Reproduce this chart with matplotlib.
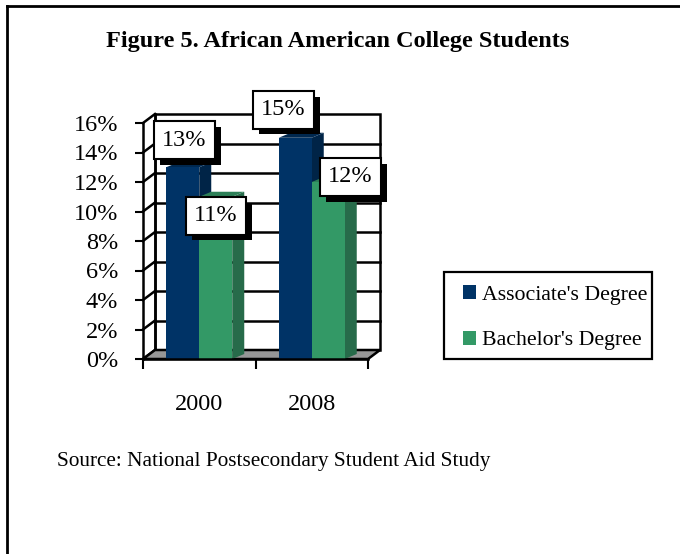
import matplotlib
matplotlib.use("Agg")
import matplotlib.pyplot as plt
import matplotlib.patheffects as pe
from matplotlib.patches import Polygon, Rectangle, Patch
from matplotlib.lines import Line2D

# ---- data -------------------------------------------------------------
years = ["2000", "2008"]
series_names = ["Associate's Degree", "Bachelor's Degree"]
associate_pct = [13, 15]
bachelor_pct = [11, 12]
y_ticks = [0, 2, 4, 6, 8, 10, 12, 14, 16]
y_tick_labels = [f"{v}%" for v in y_ticks]

# ---- style ------------------------------------------------------------
plt.rcParams["font.family"] = ["Liberation Serif", "DejaVu Serif"]
front_colors = ["#003366", "#339966"]
side_colors = ["#002447", "#276b4a"]
top_colors = ["#00284f", "#2c7f57"]
floor_color = "#969696"

W, H, DPI = 680, 554, 100
fig = plt.figure(figsize=(W / DPI, H / DPI), dpi=DPI)

# plot area (front plane of the 3-D box)
left_px, right_px, bottom_px, top_px = 143, 368, 359, 123
ax = fig.add_axes([left_px / W, (H - bottom_px) / H,
                   (right_px - left_px) / W, (bottom_px - top_px) / H])
x_lo, x_hi = -0.5, 1.5
ax.set_xlim(x_lo, x_hi)
ax.set_ylim(0, 16)

# pixel -> data conversions for the oblique depth
px_x = (x_hi - x_lo) / (right_px - left_px)
px_y = 16 / (bottom_px - top_px)
DX, DY = 12 * px_x, 9 * px_y          # wall depth
BDX, BDY = 12 * px_x, 5 * px_y        # bar depth
LW = 1.8

# back wall
ax.add_patch(Rectangle((x_lo + DX, DY), x_hi - x_lo, 16, facecolor="white",
                       edgecolor="black", lw=LW, clip_on=False, zorder=1))
# floor
ax.add_patch(Polygon([(x_lo, 0), (x_hi, 0), (x_hi + DX, DY), (x_lo + DX, DY)],
                     closed=True, facecolor=floor_color, edgecolor="black",
                     lw=LW, clip_on=False, zorder=1.2))
# gridlines on back wall and side wall
for t in y_ticks:
    if 0 < t < 16:
        ax.plot([x_lo + DX, x_hi + DX], [t + DY, t + DY], color="black",
                lw=LW, clip_on=False, zorder=1.1)
    ax.plot([x_lo, x_lo + DX], [t, t + DY], color="black", lw=LW,
            clip_on=False, zorder=1.1)
ax.plot([x_lo + DX, x_lo + DX], [DY, 16 + DY], color="black", lw=LW,
        clip_on=False, zorder=1.1)

# bars with side and top faces
bar_w = 33 * px_x
series = [associate_pct, bachelor_pct]
for s, vals in enumerate(series):
    z = 3 + s
    xs = [i + (s - 0.5) * bar_w for i in range(len(years))]
    ax.bar(xs, vals, width=bar_w, color=front_colors[s], edgecolor="none",
           zorder=z, label=series_names[s])
    for xc, v in zip(xs, vals):
        x0, x1 = xc - bar_w / 2, xc + bar_w / 2
        ax.add_patch(Polygon([(x1, 0), (x1 + BDX, BDY), (x1 + BDX, v + BDY),
                              (x1, v)], closed=True, facecolor=side_colors[s],
                             edgecolor="none", zorder=z - 0.1, clip_on=False))
        ax.add_patch(Polygon([(x0, v), (x1, v), (x1 + BDX, v + BDY),
                              (x0 + BDX, v + BDY)], closed=True,
                             facecolor=top_colors[s], edgecolor="none",
                             zorder=z - 0.1, clip_on=False))

# data labels (white boxes with a black drop shadow)
label_offsets = [[(1.5, 27), (-12, 28)], [(0, -19), (22, 5)]]
box_shadow = [pe.SimplePatchShadow(offset=(4.3, -4.3), shadow_rgbFace="black",
                                   alpha=1.0), pe.Normal()]
for s, vals in enumerate(series):
    xs = [i + (s - 0.5) * bar_w for i in range(len(years))]
    for i, (xc, v) in enumerate(zip(xs, vals)):
        ox, oy = label_offsets[s][i]
        ann = ax.annotate(f"{v}%", xy=(xc, v), xytext=(ox, oy),
                          textcoords="offset pixels", ha="center", va="center",
                          fontsize=17.5, color="black", annotation_clip=False,
                          bbox=dict(boxstyle="square,pad=0.34", fc="white",
                                    ec="black", lw=1.5), zorder=11)
        ann.get_bbox_patch().set_path_effects(box_shadow)

# axes
for side in ("top", "right"):
    ax.spines[side].set_visible(False)
for side in ("left", "bottom"):
    ax.spines[side].set_linewidth(LW)
    ax.spines[side].set_zorder(6)
ax.set_yticks(y_ticks, y_tick_labels)
ax.tick_params(axis="y", length=6, width=1.5, pad=12, labelsize=17.5)
ax.set_xticks(range(len(years)), years)
ax.set_xticks([x_lo, 0.5, x_hi], minor=True)
ax.tick_params(axis="x", which="major", length=0, pad=25, labelsize=17.5)
ax.tick_params(axis="x", which="minor", length=7, width=1.5)
ax.set_facecolor("none")

# legend with its own frame
lg_l, lg_r, lg_t, lg_b = 444, 652, 272, 359
fig.add_artist(Rectangle((lg_l / W, 1 - lg_b / H), (lg_r - lg_l) / W,
                         (lg_b - lg_t) / H, transform=fig.transFigure,
                         facecolor="white", edgecolor="black", lw=1.6))
handles = [Patch(facecolor=c, edgecolor="none") for c in front_colors]
fig.legend(handles, series_names, loc="upper left",
           bbox_to_anchor=(463 / W, 1 - 285 / H), frameon=False,
           fontsize=15.7, handlelength=0.6, handleheight=0.6,
           handletextpad=0.25, labelspacing=1.2, borderpad=0, borderaxespad=0)

# title, source note and page frame
fig.text(338 / W, 1 - 47 / H, "Figure 5. African American College Students",
         ha="center", va="baseline", fontsize=17.5, fontweight="bold")
fig.text(57 / W, 1 - 466 / H, "Source: National Postsecondary Student Aid Study",
         ha="left", va="baseline", fontsize=15.3)
fig.add_artist(Line2D([7 / W, 1], [1 - 6 / H, 1 - 6 / H],
                      transform=fig.transFigure, color="black", lw=2))
fig.add_artist(Line2D([7 / W, 7 / W], [0, 1 - 6 / H],
                      transform=fig.transFigure, color="black", lw=2))

fig.savefig("out.png", dpi=DPI)
